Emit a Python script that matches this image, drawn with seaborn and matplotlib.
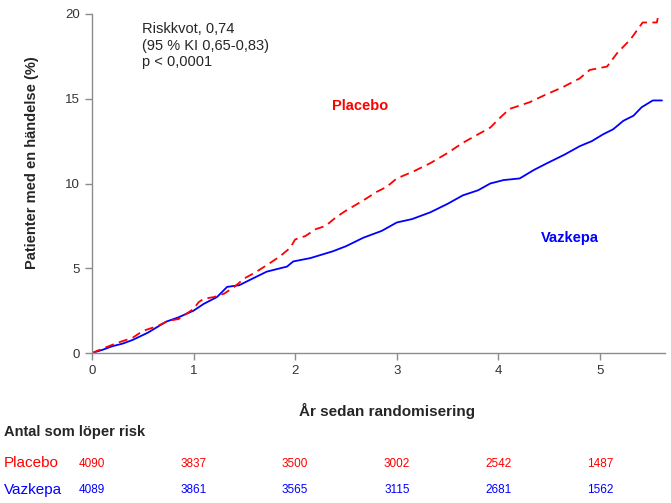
import matplotlib
matplotlib.use("Agg")
import matplotlib.pyplot as plt
import seaborn as sns
import pandas as pd

# Data
placebo_t = [0, 0.1, 0.25, 0.4, 0.5, 0.65, 0.75, 0.85, 1.0, 1.05, 1.1, 1.2, 1.3, 1.4, 1.5, 1.62,
             1.75, 1.85, 1.95, 2.0, 2.1, 2.2, 2.3, 2.4, 2.5, 2.67, 2.8, 2.9, 3.0, 3.16, 3.33, 3.5,
             3.65, 3.8, 3.92, 4.02, 4.11, 4.31, 4.45, 4.64, 4.8, 4.9, 5.07, 5.17, 5.3, 5.42, 5.56, 5.57]
placebo_y = [0, 0.25, 0.6, 0.9, 1.3, 1.6, 1.9, 2.0, 2.6, 3.0, 3.2, 3.3, 3.5, 3.9, 4.4, 4.8,
             5.3, 5.7, 6.2, 6.7, 6.9, 7.3, 7.5, 8.0, 8.4, 9.0, 9.5, 9.8, 10.3, 10.7, 11.2, 11.8,
             12.4, 12.9, 13.3, 13.9, 14.4, 14.8, 15.2, 15.7, 16.2, 16.7, 16.9, 17.7, 18.5, 19.5, 19.5, 19.8]

vazkepa_t = [0, 0.1, 0.2, 0.3, 0.4, 0.55, 0.73, 0.85, 1.0, 1.1, 1.23, 1.33, 1.45, 1.55, 1.72,
             1.92, 1.98, 2.15, 2.37, 2.5, 2.67, 2.85, 3.0, 3.15, 3.33, 3.5, 3.65, 3.8, 3.92, 4.05,
             4.21, 4.35, 4.48, 4.65, 4.8, 4.92, 5.03, 5.13, 5.23, 5.33, 5.41, 5.52, 5.61]
vazkepa_y = [0, 0.18, 0.4, 0.55, 0.77, 1.2, 1.85, 2.1, 2.5, 2.9, 3.3, 3.9, 4.0, 4.3, 4.8,
             5.1, 5.4, 5.6, 6.0, 6.3, 6.8, 7.2, 7.7, 7.9, 8.3, 8.8, 9.3, 9.6, 10.0, 10.2,
             10.3, 10.8, 11.2, 11.7, 12.2, 12.5, 12.9, 13.2, 13.7, 14.0, 14.5, 14.9, 14.9]

years = [0, 1, 2, 3, 4, 5]
risk_placebo = [4090, 3837, 3500, 3002, 2542, 1487]
risk_vazkepa = [4089, 3861, 3565, 3115, 2681, 1562]
y_ticks = [0, 5, 10, 15, 20]

RED = "#ff0000"
BLUE = "#0000ff"
GRAY = "#8c8c8c"

sns.set_style("ticks")
plt.rcParams["font.family"] = ["Liberation Sans", "DejaVu Sans"]

fig = plt.figure(figsize=(6.71, 5.03), dpi=100)
ax = fig.add_axes([92 / 671, 1 - 353 / 503, (665 - 92) / 671, (353 - 14) / 503])

df_p = pd.DataFrame({"t": placebo_t, "y": placebo_y})
df_v = pd.DataFrame({"t": vazkepa_t, "y": vazkepa_y})
sns.lineplot(data=df_v, x="t", y="y", ax=ax, color=BLUE, lw=1.3, estimator=None)
sns.lineplot(data=df_p, x="t", y="y", ax=ax, color=RED, lw=1.3, estimator=None,
             linestyle=(0, (5, 3)))

ax.set_xlim(0, 5.64)
ax.set_ylim(0, 20)
ax.set_xticks(years)
ax.set_yticks(y_ticks)
ax.set_xlabel("")
ax.set_ylabel("Patienter med en händelse (%)", fontsize=10.5, fontweight="bold")
ax.yaxis.set_label_coords(-0.093, 0.563)
for side in ["top", "right"]:
    ax.spines[side].set_visible(False)
for side in ["left", "bottom"]:
    ax.spines[side].set_color(GRAY)
    ax.spines[side].set_linewidth(1.0)
ax.tick_params(axis="both", colors=GRAY, labelcolor="#333333", labelsize=9.5, length=5, width=1)

ax.text(0.087, 0.975, "Riskkvot, 0,74\n(95 % KI 0,65-0,83)\np < 0,0001", transform=ax.transAxes,
        ha="left", va="top", fontsize=10.5, linespacing=1.2)
ax.text(2.36, 14.6, "Placebo", color=RED, fontsize=10.5, fontweight="bold", ha="left", va="center")
ax.text(4.42, 6.8, "Vazkepa", color=BLUE, fontsize=10.5, fontweight="bold", ha="left", va="center")

fig.text(387 / 671, 1 - 411 / 503, "År sedan randomisering", ha="center", va="center",
         fontsize=11, fontweight="bold")
fig.text(4 / 671, 1 - 432 / 503, "Antal som löper risk", ha="left", va="center",
         fontsize=10.5, fontweight="bold")
fig.text(4 / 671, 1 - 463 / 503, "Placebo", ha="left", va="center", fontsize=11, color=RED)
fig.text(4 / 671, 1 - 490 / 503, "Vazkepa", ha="left", va="center", fontsize=11, color=BLUE)

for yr, rp, rv in zip(years, risk_placebo, risk_vazkepa):
    xfig = ax.transData.transform((yr, 0))[0] / fig.bbox.width
    fig.text(xfig, 1 - 464 / 503, str(rp), ha="center", va="center", fontsize=8.5, color=RED)
    fig.text(xfig, 1 - 490 / 503, str(rv), ha="center", va="center", fontsize=8.5, color=BLUE)

fig.savefig("out.png", dpi=100)
